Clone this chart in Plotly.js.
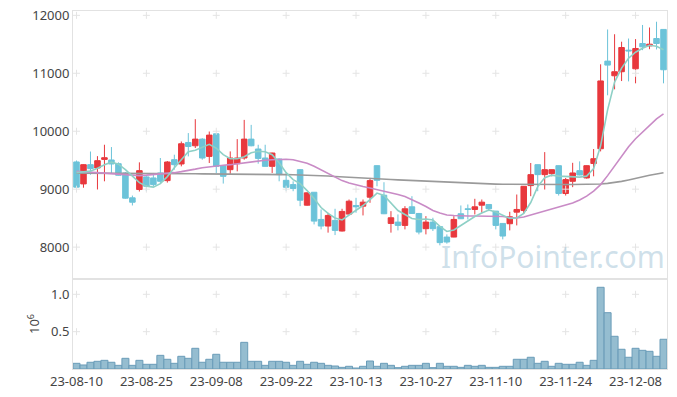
<!DOCTYPE html>
<html>
<head>
<meta charset="utf-8">
<script src="https://cdn.plot.ly/plotly-3.0.1.min.js"></script>
<style>html,body{margin:0;padding:0;background:#fff;}#chart{width:677px;height:397px;}</style>
</head>
<body>
<div id="chart"></div>
<script>
const dates = [
"23-08-10","23-08-11","23-08-14","23-08-16","23-08-17","23-08-18","23-08-21","23-08-22","23-08-23","23-08-24","23-08-25","23-08-28","23-08-29","23-08-30","23-08-31",
"23-09-01","23-09-04","23-09-05","23-09-06","23-09-07","23-09-08","23-09-11","23-09-12","23-09-13","23-09-14","23-09-15","23-09-18","23-09-19","23-09-20","23-09-21","23-09-22","23-09-25","23-09-26","23-09-27",
"23-10-04","23-10-05","23-10-06","23-10-10","23-10-11","23-10-12","23-10-13","23-10-16","23-10-17","23-10-18","23-10-19","23-10-20","23-10-23","23-10-24","23-10-25","23-10-26","23-10-27","23-10-30","23-10-31",
"23-11-01","23-11-02","23-11-03","23-11-06","23-11-07","23-11-08","23-11-09","23-11-10","23-11-13","23-11-14","23-11-15","23-11-16","23-11-17","23-11-20","23-11-21","23-11-22","23-11-23","23-11-24","23-11-27","23-11-28","23-11-29","23-11-30",
"23-12-01","23-12-04","23-12-05","23-12-06","23-12-07","23-12-08","23-12-11","23-12-12","23-12-13","23-12-14"];

const openP  = [9470,9091,9423,9366,9514,9504,9440,9280,8851,8994,9212,9194,9280,9148,9509,9435,9806,9749,9864,9566,9956,9406,9337,9440,9538,9864,9693,9538,9394,9521,9153,9079,9337,8724,8947,8478,8364,8461,8278,8570,8719,8707,8862,9406,8896,8409,8432,8375,8696,8581,8318,8432,8353,8174,8174,8576,8662,8650,8724,8736,8621,8409,8404,8604,8633,9062,9423,9251,9268,9406,8925,9136,9320,9194,9443,9698,11210,10957,11027,11399,11078,11514,11473,11600,11757];
const highP  = [9495,9430,9650,9570,9767,9727,9463,9297,8890,9463,9225,9280,9538,9486,9595,9823,9968,10208,9880,9995,9960,9410,9652,9864,10196,10110,9767,9767,9630,9530,9280,9136,9345,8945,8950,8650,8593,8662,8662,8822,8851,8822,9194,9410,9120,8621,8564,8707,8879,8590,8535,8507,8360,8220,8535,8719,8736,8834,8822,8740,8625,8412,8610,8908,9055,9452,9428,9640,9340,9410,9194,9455,9480,9411,9693,11155,11756,11674,11545,11600,11590,11834,11790,11890,11760];
const lowP   = [9005,9025,9250,8995,9136,9280,9234,8835,8719,8960,8965,9050,9108,9114,9337,9394,9566,9710,9509,9452,9280,9097,9263,9308,9509,9740,9440,9390,9280,9136,8976,8965,8707,8715,8392,8306,8250,8208,8270,8560,8593,8547,8765,9050,8570,8250,8289,8306,8575,8220,8220,8278,8031,8060,8170,8485,8478,8564,8593,8621,8306,8134,8289,8375,8576,8879,8965,8994,9222,8890,8890,9035,9239,9183,9222,9652,10620,10723,10866,10860,10827,11399,11416,11411,10827];
const closeP = [9035,9423,9354,9492,9543,9435,9240,8845,8775,9320,9050,9079,9136,9469,9423,9784,9737,9864,9538,9933,9394,9222,9538,9538,9864,9749,9531,9394,9624,9251,9033,9011,8810,8937,8449,8364,8547,8289,8616,8793,8696,8776,9148,9153,8576,8507,8375,8662,8581,8260,8432,8318,8078,8088,8478,8490,8650,8696,8776,8662,8375,8191,8524,8650,9050,9251,9251,9337,9337,8925,9165,9280,9245,9406,9526,10868,11141,11027,11445,11387,11428,11456,11502,11514,11061];

const ma5  = [9285,9294,9311,9363,9423,9466,9431,9337,9225,9113,9053,9036,9096,9217,9371,9509,9646,9672,9723,9775,9706,9595,9526,9526,9560,9629,9655,9646,9595,9457,9285,9165,9096,8976,8838,8684,8581,8503,8469,8547,8632,8718,8821,8933,8890,8753,8632,8564,8495,8478,8486,8469,8357,8271,8297,8374,8452,8529,8589,8641,8607,8555,8495,8503,8581,8770,9045,9199,9242,9225,9217,9208,9208,9225,9354,9749,10368,10849,11089,11261,11364,11433,11484,11467,11407];
const ma20 = [9308,9303,9294,9285,9277,9268,9260,9251,9242,9234,9242,9251,9260,9268,9285,9303,9320,9346,9371,9388,9405,9414,9423,9440,9457,9466,9483,9500,9509,9517,9517,9509,9483,9449,9397,9337,9277,9208,9148,9105,9070,9045,9019,8993,8968,8942,8907,8873,8821,8761,8701,8632,8589,8555,8547,8538,8538,8538,8538,8538,8538,8529,8512,8503,8521,8555,8589,8624,8658,8684,8718,8761,8813,8881,8968,9079,9234,9405,9577,9732,9870,9990,10110,10213,10299];
const ma60 = [9277,9277,9275,9275,9273,9272,9270,9270,9268,9268,9268,9268,9268,9266,9266,9266,9266,9266,9264,9264,9264,9264,9262,9262,9260,9260,9258,9258,9256,9254,9251,9249,9247,9245,9240,9234,9228,9220,9212,9205,9199,9193,9187,9180,9174,9168,9161,9155,9148,9142,9136,9131,9125,9120,9115,9110,9105,9100,9096,9092,9088,9085,9083,9081,9080,9079,9079,9079,9079,9079,9080,9080,9081,9082,9084,9090,9100,9115,9135,9160,9190,9215,9240,9262,9285];

const volume = [76000,54000,90000,103000,116000,90000,49000,143000,49000,116000,63000,63000,183000,130000,76000,170000,143000,277000,90000,130000,197000,90000,90000,90000,357000,103000,103000,49000,103000,103000,90000,49000,103000,63000,90000,76000,49000,40000,22000,36000,13000,36000,107000,36000,76000,49000,18000,36000,49000,49000,76000,18000,76000,36000,36000,22000,49000,36000,49000,22000,22000,36000,36000,130000,130000,157000,76000,103000,36000,76000,63000,63000,90000,49000,116000,1094000,754000,438000,264000,157000,277000,250000,237000,170000,398000];

const tickDates = ["23-08-10","23-08-25","23-09-08","23-09-22","23-10-13","23-10-27","23-11-10","23-11-24","23-12-08"];
const priceTicks = [8000,9000,10000,11000,12000];
const priceTickText = ["8000","9000","10000","11000","12000"];
const volTicks = [0.5,1.0];
const volTickText = ["0.5","1.0"];

const FONT = "Noto Sans, Open Sans, sans-serif";

const cx1=[],cy1=[],cx2=[],cy2=[];
tickDates.forEach(d=>{priceTicks.forEach(p=>{cx1.push(d);cy1.push(p);});volTicks.forEach(v=>{cx2.push(d);cy2.push(v);});});

const traces = [
  {type:'scatter',mode:'markers',x:cx1,y:cy1,xaxis:'x',yaxis:'y',hoverinfo:'skip',
   marker:{symbol:'cross-thin',size:5,line:{color:'#e4e4e4',width:1}},showlegend:false},
  {type:'bar',x:dates,y:volume.map(v=>v/1e6),xaxis:'x2',yaxis:'y2',
   marker:{color:'#95bdd0',line:{color:'#6a9cb8',width:1}},showlegend:false},
  {type:'scatter',mode:'markers',x:cx2,y:cy2,xaxis:'x2',yaxis:'y2',hoverinfo:'skip',
   marker:{symbol:'cross-thin',size:5,line:{color:'#e4e4e4',width:1}},showlegend:false},
  {type:'scatter',mode:'lines',x:dates,y:ma60,xaxis:'x',yaxis:'y',line:{color:'#9a9a9a',width:1.6},showlegend:false},
  {type:'scatter',mode:'lines',x:dates,y:ma20,xaxis:'x',yaxis:'y',line:{color:'#c98bc6',width:1.6},showlegend:false},
  {type:'scatter',mode:'lines',x:dates,y:ma5,xaxis:'x',yaxis:'y',line:{color:'#8ed0c6',width:1.6},showlegend:false},
  {type:'candlestick',x:dates,open:openP,high:highP,low:lowP,close:closeP,xaxis:'x',yaxis:'y',
   increasing:{line:{color:'#e8383d',width:1},fillcolor:'#e8383d'},
   decreasing:{line:{color:'#6cc3d9',width:1},fillcolor:'#6cc3d9'},
   whiskerwidth:0,showlegend:false}
];

const layout = {
  width:677,height:397,
  margin:{l:73,r:10,t:11,b:28},
  paper_bgcolor:'#ffffff',plot_bgcolor:'#ffffff',
  font:{family:FONT,size:13,color:'#444'},
  showlegend:false,
  bargap:0,
  boxgap:0.12,
  boxgroupgap:0.1,
  xaxis:{type:'category',categoryorder:'array',categoryarray:dates,anchor:'y',domain:[0,1],range:[-0.5,84.5],showticklabels:false,
    rangeslider:{visible:false},showgrid:false,zeroline:false,showline:true,mirror:true,linecolor:'#e2e2e2',linewidth:1,ticks:''},
  xaxis2:{type:'category',categoryorder:'array',categoryarray:dates,anchor:'y2',domain:[0,1],range:[-0.5,84.5],
    tickmode:'array',tickvals:tickDates,ticktext:tickDates,tickangle:0,
    showgrid:false,zeroline:false,showline:true,mirror:true,linecolor:'#e2e2e2',linewidth:1,ticks:'',
    tickfont:{family:FONT,size:13,color:'#444'}},
  yaxis:{domain:[0.2514,1],range:[7450,12075],tickmode:'array',tickvals:priceTicks,ticktext:priceTickText,
    showgrid:false,zeroline:false,showline:true,mirror:true,linecolor:'#e2e2e2',ticks:'',
    tickfont:{family:FONT,size:13,color:'#444'}},
  yaxis2:{domain:[0,0.2514],range:[0,1.205],tickmode:'array',tickvals:volTicks,ticktext:volTickText,
    showgrid:false,zeroline:false,showline:true,mirror:true,linecolor:'#e2e2e2',ticks:'',
    tickfont:{family:FONT,size:13,color:'#444'},
    title:{text:'10<sup>6</sup>',font:{family:FONT,size:13,color:'#444'},standoff:8}},
  annotations:[{text:'InfoPointer.com',xref:'paper',yref:'paper',x:1,y:0.252,xanchor:'right',yanchor:'bottom',
    showarrow:false,font:{family:FONT,size:30,color:'rgba(165,198,216,0.55)'}}]
};

Plotly.newPlot('chart',traces,layout,{staticPlot:true,displayModeBar:false});
</script>
</body>
</html>
